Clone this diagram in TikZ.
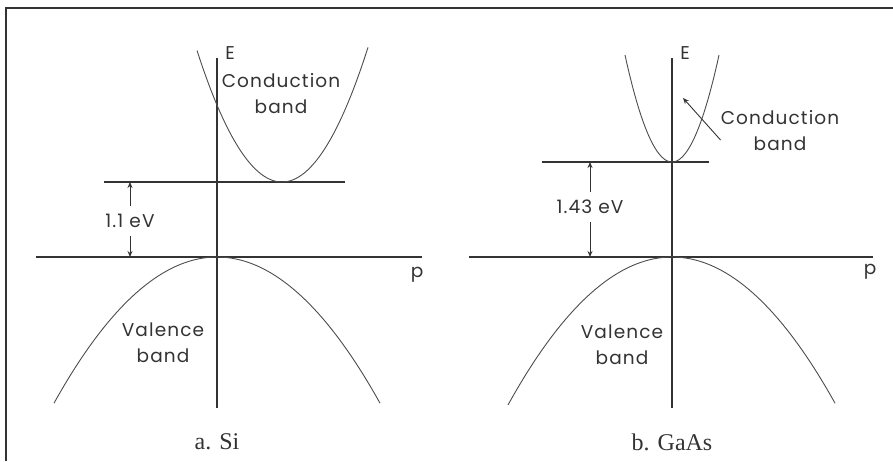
\documentclass[tikz,border=0pt]{standalone}
\usepackage{fontspec}
\setmainfont{Liberation Serif}
\setsansfont{Poppins}[LetterSpace=6]
\usetikzlibrary{arrows.meta}

\begin{document}
\begin{tikzpicture}[x=1pt,y=-1pt,
  axis/.style={line width=1.1pt, draw=black!80},
  band/.style={line width=0.9pt, draw=black!70},
  lbl/.style={font=\sffamily\fontsize{18.5}{26}\selectfont, text=black!80,
              align=center, inner sep=0pt},
  gaplbl/.style={lbl, inner ysep=8pt},
  subcap/.style={font=\fontsize{24}{26}\selectfont, text=black!80, inner sep=0pt},
  arrow/.style={-{Stealth[length=6pt,width=5pt]}, line width=0.9pt, draw=black!80}
]
  \useasboundingbox (0,0) rectangle (893,461);
  % frame
  \draw[axis] (6,461) -- (6,8) -- (893,8);

  % a. Si
  \coordinate (siTop) at (104,182);
  \coordinate (siBot) at (36,257);
  \draw[axis] (217,58) -- (217,408);
  \draw[axis] (siBot) -- (422,257);
  \draw[axis] (siTop) -- (345,182);
  \draw[band] plot[domain=-85:86, samples=60] ({282+\x},{182-1.82*(\x/10)*(\x/10)});
  \draw[band] plot[domain=-163:163, samples=80] ({217+\x},{257+0.55*(\x/10)*(\x/10)});
  \node[lbl] (siE) at (230,53) {E};
  \node[lbl] (siCB) at (281,94) {Conduction\\band};
  \node[lbl] (siVB) at (163,343) {Valence\\band};
  \node[lbl] (siP) at (417,275) {p};
  \node[gaplbl] (siGap) at (130,221) {1.1 eV};
  \node[subcap] (siCap) at (217,442) {a. Si};
  \draw[arrow] (siGap.north) -- (siGap.north |- siTop);
  \draw[arrow] (siGap.south) -- (siGap.south |- siBot);

  % b. GaAs
  \coordinate (gaTop) at (542,162);
  \coordinate (gaBot) at (469,257);
  \coordinate (gaTip) at (683,98);
  \draw[axis] (672,58) -- (672,408);
  \draw[axis] (gaBot) -- (873,257);
  \draw[axis] (gaTop) -- (709,162);
  \draw[band] plot[domain=-47:47, samples=60] ({672+\x},{162-4.84*(\x/10)*(\x/10)});
  \draw[band] plot[domain=-164:163, samples=80] ({672+\x},{257+0.55*(\x/10)*(\x/10)});
  \node[lbl] (gaE) at (685,53) {E};
  \node[lbl] (gaCB) at (780,131) {Conduction\\band};
  \node[lbl] (gaVB) at (622,345) {Valence\\band};
  \node[lbl] (gaP) at (870,272) {p};
  \node[gaplbl] (gaGap) at (590,207) {1.43 eV};
  \node[subcap] (gaCap) at (672,442) {b. GaAs};
  \draw[arrow] (gaGap.north) -- (gaGap.north |- gaTop);
  \draw[arrow] (gaGap.south) -- (gaGap.south |- gaBot);
  \draw[arrow] ([shift={(0,9)}]gaCB.west) -- (gaTip);
\end{tikzpicture}
\end{document}
